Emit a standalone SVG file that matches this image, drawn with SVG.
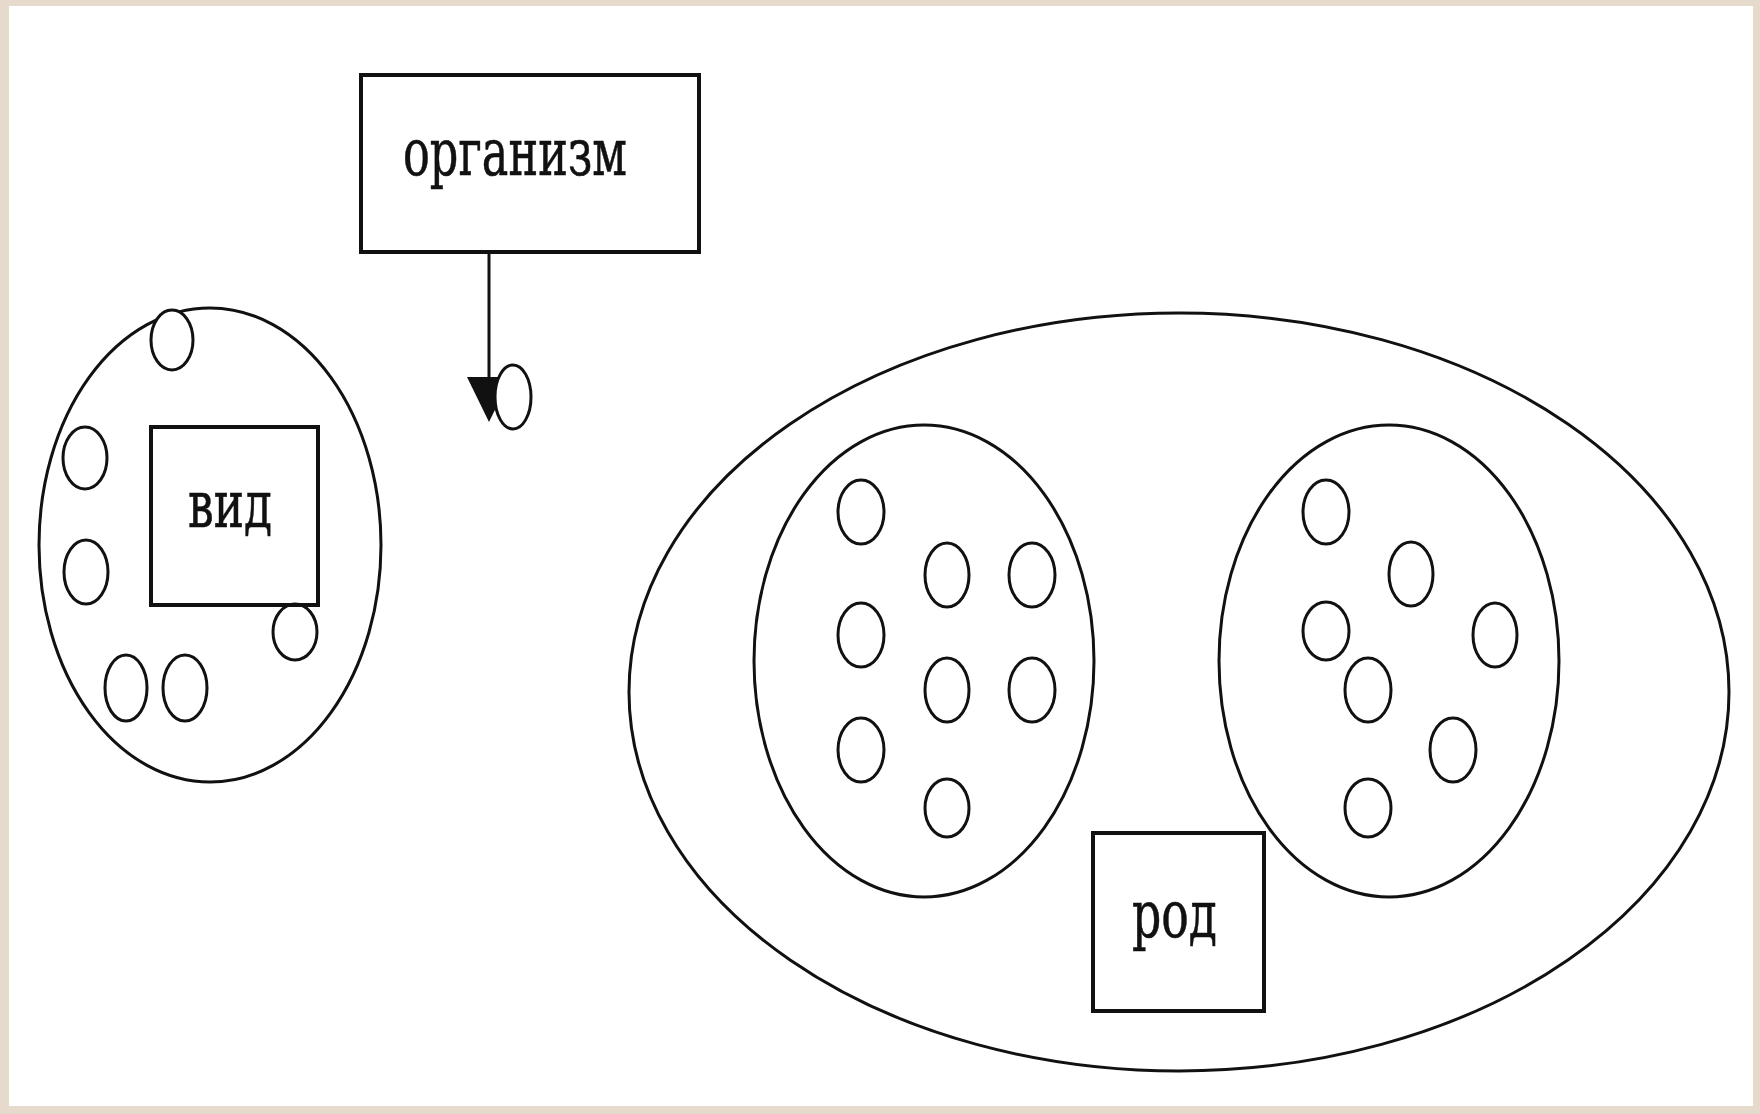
<svg xmlns="http://www.w3.org/2000/svg" width="1760" height="1114" viewBox="0 0 1760 1114">
<defs>
<style>
.e{fill:none;stroke:#111;stroke-width:3}
.c{fill:#fff;stroke:#111;stroke-width:3}
.b{fill:#fff;stroke:#111;stroke-width:4}
.t{font-family:"DejaVu Serif","Liberation Serif",serif;font-size:66px;fill:#111;stroke:#111;stroke-width:0.6}
</style>
</defs>
<rect x="0" y="0" width="1760" height="1114" fill="#e5dacb"/>
<rect x="9" y="6" width="1744" height="1100" fill="#fff"/>

<g id="connectors">
<line x1="489" y1="253" x2="489" y2="377" stroke="#111" stroke-width="3"/>
<path d="M467,377 L511,377 L489,422 Z" fill="#111"/>
</g>

<g id="organism-box">
<rect class="b" x="361" y="75" width="338" height="177"/>
<text class="t" x="403" y="175" textLength="224" lengthAdjust="spacingAndGlyphs">организм</text>
</g>
<g id="organism-circle">
<ellipse class="c" cx="513" cy="397" rx="18" ry="32"/>
</g>

<g id="vid-group">
<ellipse class="e" cx="210" cy="545" rx="171" ry="237"/>
<ellipse class="c" cx="172" cy="340" rx="21" ry="30"/>
<ellipse class="c" cx="85" cy="458" rx="22" ry="31"/>
<ellipse class="c" cx="86" cy="572" rx="22" ry="32"/>
<ellipse class="c" cx="126" cy="688" rx="21" ry="33"/>
<ellipse class="c" cx="185" cy="688" rx="22" ry="33"/>
<ellipse class="c" cx="295" cy="632" rx="22" ry="28"/>
</g>
<g id="vid-box">
<rect class="b" x="151" y="427" width="167" height="178" fill-opacity="0"/>
<text class="t" x="188" y="527" textLength="84" lengthAdjust="spacingAndGlyphs">вид</text>
</g>

<g id="rod-group">
<ellipse class="e" cx="1179" cy="692" rx="550" ry="379"/>
</g>
<g id="species-left">
<ellipse class="e" cx="924" cy="661" rx="170" ry="236"/>
<ellipse class="c" cx="861" cy="512" rx="23" ry="32"/>
<ellipse class="c" cx="947" cy="575" rx="22" ry="32"/>
<ellipse class="c" cx="1032" cy="575" rx="23" ry="32"/>
<ellipse class="c" cx="861" cy="635" rx="23" ry="32"/>
<ellipse class="c" cx="947" cy="690" rx="22" ry="32"/>
<ellipse class="c" cx="1032" cy="690" rx="23" ry="32"/>
<ellipse class="c" cx="861" cy="750" rx="23" ry="32"/>
<ellipse class="c" cx="947" cy="808" rx="22" ry="29"/>
</g>
<g id="species-right">
<ellipse class="e" cx="1389" cy="661" rx="170" ry="236"/>
<ellipse class="c" cx="1326" cy="512" rx="23" ry="32"/>
<ellipse class="c" cx="1411" cy="574" rx="22" ry="32"/>
<ellipse class="c" cx="1326" cy="631" rx="23" ry="29"/>
<ellipse class="c" cx="1495" cy="635" rx="22" ry="32"/>
<ellipse class="c" cx="1368" cy="690" rx="23" ry="32"/>
<ellipse class="c" cx="1453" cy="750" rx="23" ry="32"/>
<ellipse class="c" cx="1368" cy="808" rx="23" ry="29"/>
</g>
<g id="rod-box">
<rect class="b" x="1093" y="833" width="171" height="178"/>
<text class="t" x="1132" y="937" textLength="85" lengthAdjust="spacingAndGlyphs">род</text>
</g>
</svg>
